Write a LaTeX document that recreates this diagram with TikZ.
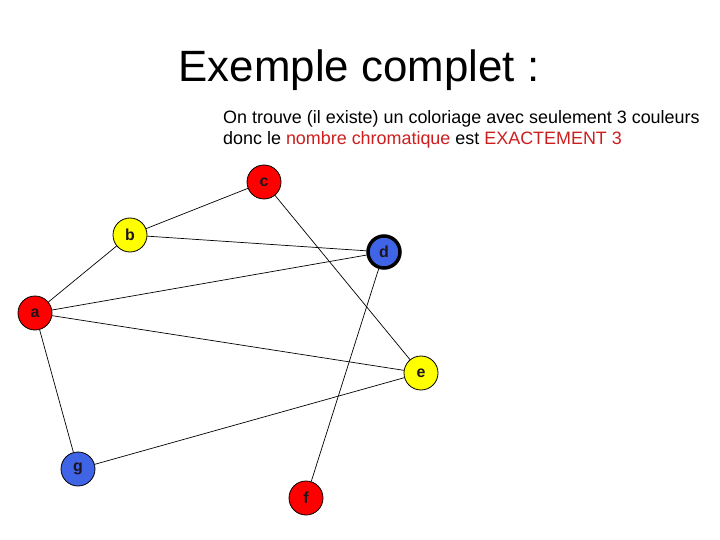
\documentclass[tikz,border=0pt]{standalone}
\usepackage{fontspec}
\setmainfont{Liberation Sans}
\definecolor{nred}{RGB}{255,0,0}
\definecolor{nyellow}{RGB}{255,255,0}
\definecolor{nblue}{RGB}{64,100,230}
\definecolor{tred}{RGB}{204,30,30}
\definecolor{lbl}{RGB}{30,20,30}
\begin{document}
\begin{tikzpicture}[x=1bp,y=-1bp,
  vtx/.style={circle,draw=black,line width=0.8bp,minimum size=34bp,inner sep=0pt,
    font=\fontsize{16}{18}\selectfont\bfseries,text=lbl},
  edge/.style={draw=black,line width=0.7bp}]
\useasboundingbox (0,0) rectangle (720,540);
\node[anchor=base] (title) at (359,82) {\fontsize{44}{48}\selectfont Exemple complet :};
\node[anchor=base west,inner sep=0pt,align=left] (txt1) at (223,124)
  {\fontsize{18}{20}\selectfont On trouve (il existe) un coloriage avec seulement 3 couleurs};
\node[anchor=base west,inner sep=0pt,align=left] (txt2) at (223,145)
  {\fontsize{18}{20}\selectfont donc le \textcolor{tred}{nombre chromatique} est \textcolor{tred}{EXACTEMENT 3}};
\node[vtx,fill=nred] (c) at (264,182) {c};
\node[vtx,fill=nyellow] (b) at (130,235) {b};
\node[vtx,fill=nblue,line width=3.5bp,minimum size=32bp] (d) at (384,252) {d};
\node[vtx,fill=nred] (a) at (35,313) {a};
\node[vtx,fill=nyellow] (e) at (421,373) {e};
\node[vtx,fill=nblue] (g) at (78,469) {g};
\node[vtx,fill=nred] (f) at (306,498) {f};
\draw[edge] (b) -- (c);
\draw[edge] (b) -- (d);
\draw[edge] (a) -- (b);
\draw[edge] (a) -- (d);
\draw[edge] (a) -- (e);
\draw[edge] (a) -- (g);
\draw[edge] (c) -- (e);
\draw[edge] (g) -- (e);
\draw[edge] (f) -- (d);
\end{tikzpicture}
\end{document}
